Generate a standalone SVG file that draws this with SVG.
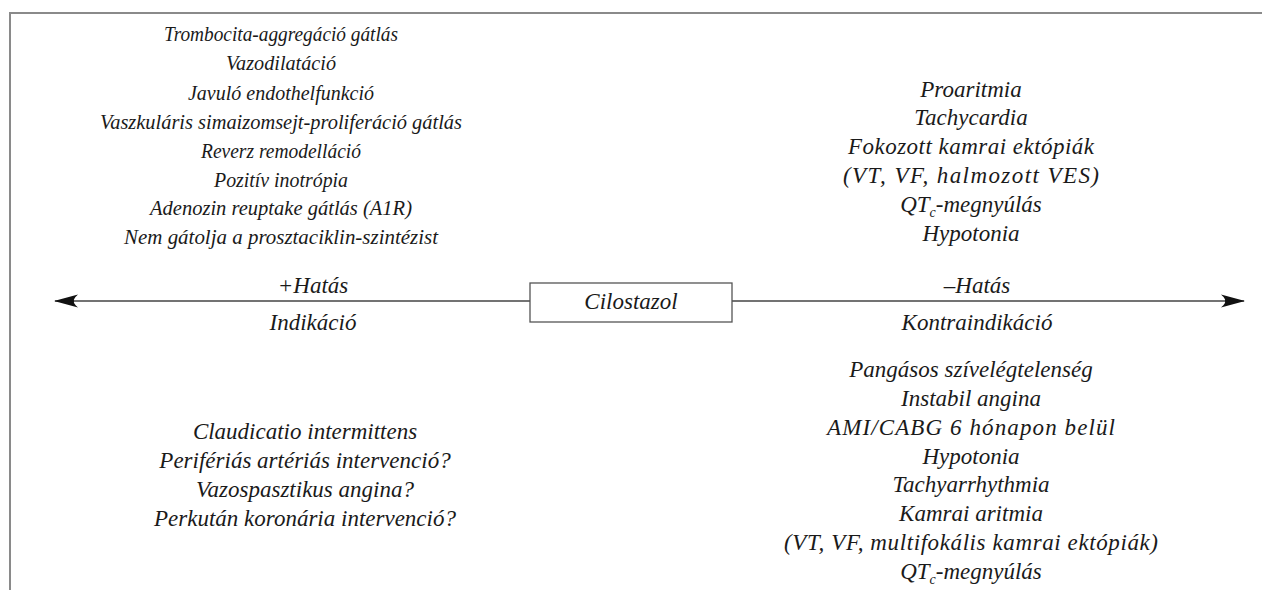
<svg xmlns="http://www.w3.org/2000/svg" width="1262" height="590" viewBox="0 0 1262 590">
<style>
text{font-family:'Liberation Serif','DejaVu Serif',serif;font-style:italic;font-size:23px;fill:#1a1a1a;text-anchor:middle}
.tl{font-size:21.5px}
.frame{stroke:#8a8a8a;stroke-width:2;fill:none}
.conn{stroke:#444;stroke-width:1.6;fill:none}
.box{fill:#fff;stroke:#555;stroke-width:1.3}
.sub{font-size:14px}
</style>
<defs>
<marker id="ah" viewBox="0 0 24 14" refX="23" refY="7" markerWidth="24" markerHeight="14" markerUnits="userSpaceOnUse" orient="auto-start-reverse">
<path d="M0,0.5 Q5,5 4,7 Q5,9 0,13.5 L24,7 Z" fill="#111"/>
</marker>
</defs>
<rect width="1262" height="590" fill="#fff"/>
<path class="frame" d="M10,590 V13 H1262"/>
<g id="connectors">
<line class="conn" x1="530" y1="301" x2="55" y2="301" marker-end="url(#ah)"/>
<line class="conn" x1="732" y1="301" x2="1244" y2="301" marker-end="url(#ah)"/>
</g>
<g id="cilostazol">
<rect class="box" x="530" y="283" width="202" height="39"/>
<text x="631" y="309">Cilostazol</text>
</g>
<g id="label-plus">
<text x="313" y="293">+Hatás</text>
<text x="313" y="330">Indikáció</text>
</g>
<g id="label-minus">
<text x="977" y="293">–Hatás</text>
<text x="977" y="330">Kontraindikáció</text>
</g>
<g id="positive-effects">
<text class="tl" x="281" y="41" textLength="234" lengthAdjust="spacingAndGlyphs">Trombocita-aggregáció gátlás</text>
<text class="tl" x="281" y="70" textLength="110" lengthAdjust="spacingAndGlyphs">Vazodilatáció</text>
<text class="tl" x="281" y="100" textLength="186" lengthAdjust="spacingAndGlyphs">Javuló endothelfunkció</text>
<text class="tl" x="281" y="129" textLength="362" lengthAdjust="spacingAndGlyphs">Vaszkuláris simaizomsejt-proliferáció gátlás</text>
<text class="tl" x="281" y="158" textLength="160" lengthAdjust="spacingAndGlyphs">Reverz remodelláció</text>
<text class="tl" x="281" y="187" textLength="134" lengthAdjust="spacingAndGlyphs">Pozitív inotrópia</text>
<text class="tl" x="281" y="215" textLength="262" lengthAdjust="spacingAndGlyphs">Adenozin reuptake gátlás (A1R)</text>
<text class="tl" x="281" y="244" textLength="314" lengthAdjust="spacingAndGlyphs">Nem gátolja a prosztaciklin-szintézist</text>
</g>
<g id="negative-effects">
<text x="971" y="97">Proaritmia</text>
<text x="971" y="125">Tachycardia</text>
<text x="971" y="154" textLength="246" lengthAdjust="spacing">Fokozott kamrai ektópiák</text>
<text x="971" y="183" textLength="256" lengthAdjust="spacing">(VT, VF, halmozott VES)</text>
<text x="971" y="212">QT<tspan class="sub" dy="5">c</tspan><tspan dy="-5">-megnyúlás</tspan></text>
<text x="971" y="241">Hypotonia</text>
</g>
<g id="indications">
<text x="305" y="439">Claudicatio intermittens</text>
<text x="305" y="468">Perifériás artériás intervenció?</text>
<text x="305" y="497">Vazospasztikus angina?</text>
<text x="305" y="526">Perkután koronária intervenció?</text>
</g>
<g id="contraindications">
<text x="971" y="377">Pangásos szívelégtelenség</text>
<text x="971" y="406">Instabil angina</text>
<text x="971" y="435" textLength="288" lengthAdjust="spacing">AMI/CABG 6 hónapon belül</text>
<text x="971" y="464">Hypotonia</text>
<text x="971" y="492">Tachyarrhythmia</text>
<text x="971" y="521">Kamrai aritmia</text>
<text x="971" y="550" textLength="374" lengthAdjust="spacing">(VT, VF, multifokális kamrai ektópiák)</text>
<text x="971" y="579">QT<tspan class="sub" dy="5">c</tspan><tspan dy="-5">-megnyúlás</tspan></text>
</g>
</svg>
